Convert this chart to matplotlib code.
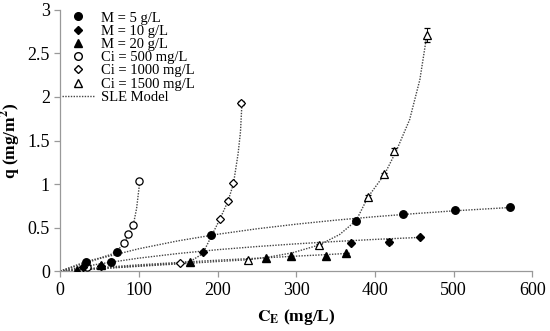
import matplotlib
matplotlib.use("Agg")
import matplotlib.pyplot as plt
from matplotlib.lines import Line2D

plt.rcParams['font.family'] = ['Liberation Serif', 'DejaVu Serif']
plt.rcParams['mathtext.fontset'] = 'stix'

# datos medidos (C_E en mg/L, q en mg/m2)
m5_x = [33, 64, 72, 192, 376, 435, 501, 571]
m5_y = [0.10, 0.11, 0.22, 0.42, 0.58, 0.66, 0.70, 0.74]

m10_x = [29, 52, 181, 369, 418, 457]
m10_y = [0.05, 0.06, 0.215, 0.325, 0.337, 0.387]
m10_err = [0.0, 0.0, 0.0, 0.0, 0.03, 0.0]

m20_x = [21, 52, 165, 261, 293, 338, 363]
m20_y = [0.01, 0.07, 0.107, 0.153, 0.172, 0.172, 0.21]

ci500_x = [34, 81, 86, 93, 100]
ci500_y = [0.05, 0.325, 0.43, 0.53, 1.03]
ci500_err = [0.01, 0.01, 0.015, 0.015, 0.015]

ci1000_x = [152, 203, 213, 220, 230]
ci1000_y = [0.088, 0.60, 0.81, 1.01, 1.93]
ci1000_err = [0.01, 0.01, 0.02, 0.01, 0.02]

ci1500_x = [238, 329, 391, 412, 424, 466]
ci1500_y = [0.13, 0.30, 0.855, 1.11, 1.38, 2.71]
ci1500_err = [0.01, 0.015, 0.02, 0.02, 0.03, 0.08]

# curvas del modelo SLE
sle_m5_x = [0, 50, 100, 150, 200, 250, 300, 350, 400, 450, 500, 571]
sle_m5_y = [0, 0.144, 0.257, 0.348, 0.423, 0.486, 0.539, 0.585, 0.625, 0.660, 0.692, 0.730]

sle_m10_x = [0, 50, 100, 150, 200, 250, 300, 350, 400, 460]
sle_m10_y = [0, 0.083, 0.149, 0.202, 0.246, 0.282, 0.313, 0.340, 0.364, 0.388]

sle_m20_x = [0, 50, 100, 165, 200, 261, 300, 340, 368]
sle_m20_y = [0, 0.04, 0.072, 0.107, 0.125, 0.153, 0.172, 0.19, 0.205]

sle_ci500_x = [0, 33, 50, 64, 72, 81, 87, 93, 97, 100, 101.5]
sle_ci500_y = [0, 0.11, 0.15, 0.19, 0.23, 0.32, 0.42, 0.54, 0.72, 0.95, 1.06]

sle_ci1000_x = [0, 50, 100, 150, 165, 181, 192, 203, 213, 220, 226, 229, 231]
sle_ci1000_y = [0, 0.03, 0.06, 0.09, 0.11, 0.2, 0.4, 0.6, 0.8, 1.0, 1.35, 1.6, 1.95]

sle_ci1500_x = [0, 100, 200, 238, 261, 295, 329, 355, 376, 391, 412, 427, 444, 457, 466]
sle_ci1500_y = [0, 0.055, 0.11, 0.13, 0.155, 0.21, 0.30, 0.42, 0.58, 0.85, 1.11, 1.38, 1.74, 2.2, 2.72]

fig = plt.figure(figsize=(5.5, 3.31), dpi=100)
ax = fig.add_axes([0.1096, 0.181, 0.8584, 0.789])

gris = '#444444'
for sx, sy in [(sle_m5_x, sle_m5_y), (sle_m10_x, sle_m10_y), (sle_m20_x, sle_m20_y),
               (sle_ci500_x, sle_ci500_y), (sle_ci1000_x, sle_ci1000_y),
               (sle_ci1500_x, sle_ci1500_y)]:
    ax.plot(sx, sy, linestyle=(0, (1, 1)), color=gris, linewidth=1.0, zorder=1)

# series abiertas (Ci) con barras de error
ax.errorbar(ci500_x, ci500_y, yerr=ci500_err, fmt='o', ms=5.2, mfc='white',
            mec='black', mew=0.9, ecolor='black', elinewidth=0.7, capsize=2, zorder=3)
ax.errorbar(ci1000_x, ci1000_y, yerr=ci1000_err, fmt='D', ms=4.5, mfc='white',
            mec='black', mew=0.9, ecolor='black', elinewidth=0.7, capsize=2, zorder=3)
ax.errorbar(ci1500_x, ci1500_y, yerr=ci1500_err, fmt='^', ms=5.8, mfc='white',
            mec='black', mew=0.9, ecolor='black', elinewidth=0.7, capsize=2, zorder=3)

# series rellenas (M)
ax.plot(m5_x, m5_y, 'o', ms=5.4, color='black', zorder=4)
ax.errorbar(m10_x, m10_y, yerr=m10_err, fmt='D', ms=4.3, color='black',
            elinewidth=0.7, capsize=2, zorder=4)
ax.plot(m20_x, m20_y, '^', ms=5.6, color='black', zorder=4)

ax.set_xlim(0, 600)
ax.set_ylim(0, 3)
ax.set_xticks([0, 100, 200, 300, 400, 500, 600])
ax.set_yticks([0, 0.5, 1, 1.5, 2, 2.5, 3])
ax.set_yticklabels(['0', '0.5', '1', '1.5', '2', '2.5', '3'])

for s in ['top', 'right']:
    ax.spines[s].set_visible(False)
for s in ['left', 'bottom']:
    ax.spines[s].set_color('#999999')
    ax.spines[s].set_linewidth(0.9)
ax.tick_params(colors='#999999', labelcolor='black', labelsize=13, length=4, width=0.9)

ax.set_xlabel(r'$\mathbf{C}_{\mathbf{E}}$ (mg/L)', fontsize=12.5, fontweight='bold', labelpad=6)
ax.set_ylabel(r'q (mg/m$^{\mathbf{2}}$)', fontsize=12.5, fontweight='bold', labelpad=3)

handles = [
    Line2D([], [], marker='o', ls='none', color='black', ms=5.5),
    Line2D([], [], marker='D', ls='none', color='black', ms=4),
    Line2D([], [], marker='^', ls='none', color='black', ms=5.5),
    Line2D([], [], marker='o', ls='none', mfc='white', mec='black', ms=5.5),
    Line2D([], [], marker='D', ls='none', mfc='white', mec='black', ms=4.5),
    Line2D([], [], marker='^', ls='none', mfc='white', mec='black', ms=6),
    Line2D([], [], ls=(0, (1, 1)), color=gris, lw=1.0),
]
labels = ['M = 5 g/L', 'M = 10 g/L', 'M = 20 g/L', 'Ci = 500 mg/L',
          'Ci = 1000 mg/L', 'Ci = 1500 mg/L', 'SLE Model']
ax.legend(handles, labels, loc='upper left', bbox_to_anchor=(0.0, 1.0),
          frameon=False, fontsize=10.5, handlelength=2.2, handletextpad=0.5,
          labelspacing=0.0, borderpad=0.1, borderaxespad=0, numpoints=1)

plt.savefig('out.png', dpi=100)
plt.close()
